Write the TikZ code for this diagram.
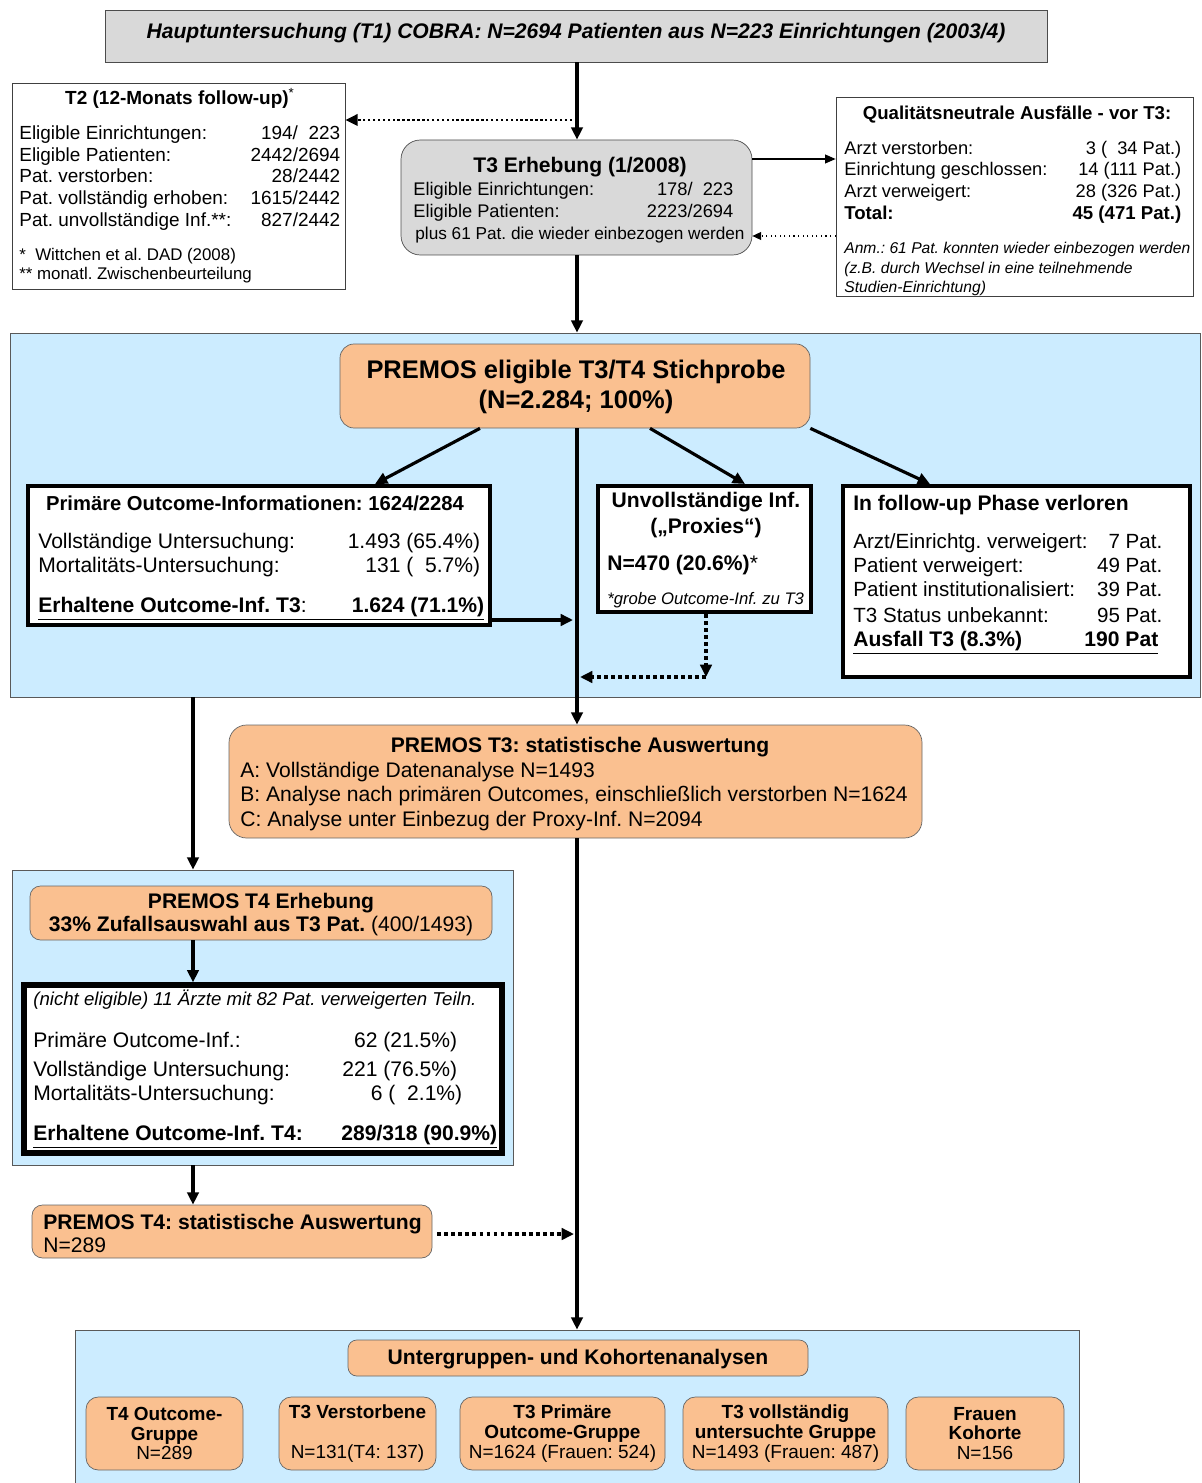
\documentclass[tikz,border=0pt]{standalone}
\usepackage{fontspec}
\setmainfont{Liberation Sans}
\usetikzlibrary{positioning, arrows.meta, fit}

\definecolor{boxgray}{RGB}{217,217,217}
\definecolor{boxorange}{RGB}{250,192,144}
\definecolor{areablue}{RGB}{204,236,255}

\begin{document}
\frenchspacing
\begin{tikzpicture}[x=0.02cm, y=-0.02cm,
	>={Triangle[length=7pt,width=6.5pt]},
	area/.style={draw=black!65, fill=areablue, inner sep=0pt},
	graybox/.style={draw=black!70, fill=boxgray, inner sep=0pt},
	orangebox/.style={draw=black!60, fill=boxorange, rounded corners=8pt, inner sep=0pt},
	plainbox/.style={draw=black!75, fill=white, inner sep=0pt},
	heavybox/.style={draw=black, line width=2.3pt, fill=white, inner sep=0pt},
	txt/.style={inner sep=0pt, text height=1.5ex, text depth=.25ex, yshift=-0.04cm},
	row/.style={txt, anchor=west},
	cohort/.style={align=center, inner sep=0pt, font=\fontsize{10.8}{11.3}\selectfont},
	flow/.style={->, line width=1.8pt},
	dotflow/.style={->, line width=2.2pt, dash pattern=on 2.2pt off 1.8pt},
	f9i/.style={font=\fontsize{8.9}{10}\selectfont\itshape},
	f95/.style={font=\fontsize{9.6}{11}\selectfont},
	f10/.style={font=\fontsize{10.4}{12}\selectfont},
	f10b/.style={font=\fontsize{10.6}{12}\selectfont\bfseries},
	f11/.style={font=\fontsize{10.8}{12.5}\selectfont},
	f11b/.style={font=\fontsize{10.8}{12.5}\selectfont\bfseries},
	f12/.style={font=\fontsize{12}{14}\selectfont},
	f12b/.style={font=\fontsize{12}{14}\selectfont\bfseries}]
	\useasboundingbox (0,0) rectangle (1201,1483);

	% areas in the background
	\node (pool) [area, fit={(10,333) (1200,697)}] {};
	\node (t4area) [area, fit={(12,870) (513,1165)}] {};
	\node (subarea) [area, fit={(75,1330) (1079,1500)}] {};

	% top part
	\node (top) [graybox, fit={(105,10) (1047,62)}] {};
	\node (toptxt) at (576,31) [txt, font=\fontsize{12}{14}\selectfont\bfseries\itshape] {Hauptuntersuchung (T1) COBRA: N=2694 Patienten aus N=223 Einrichtungen (2003/4)};

	\node (t2) [plainbox, fit={(12,83) (345,289)}] {};
	\node (t2title) at (180,97) [txt, f11b] {T2 (12-Monats follow-up)\textsuperscript{\mdseries*}};
	\node (t2r1) at (19,132) [row, f11] {\makebox[6.42cm][l]{Eligible Einrichtungen:\hfill 194/\phantom{0}223}};
	\node (t2r2) at (19,154) [row, f11] {\makebox[6.42cm][l]{Eligible Patienten:\hfill 2442/2694}};
	\node (t2r3) at (19,175) [row, f11] {\makebox[6.42cm][l]{Pat. verstorben:\hfill 28/2442}};
	\node (t2r4) at (19,197) [row, f11] {\makebox[6.42cm][l]{Pat. vollständig erhoben:\hfill 1615/2442}};
	\node (t2r5) at (19,219) [row, f11] {\makebox[6.42cm][l]{Pat. unvollständige Inf.**:\hfill 827/2442}};
	\node (t2n1) at (19,253) [row, f95] {*\ \ Wittchen et al. DAD (2008)};
	\node (t2n2) at (19,272) [row, f95] {** monatl. Zwischenbeurteilung};

	\node (t3) [graybox, rounded corners=11pt, fit={(401,140) (752,255)}] {};
	\node (t3title) at (580,165) [txt, f12b] {T3 Erhebung (1/2008)};
	\node (t3r1) at (413,188) [row, f10] {\makebox[6.4cm][l]{Eligible Einrichtungen:\hfill 178/\phantom{0}223}};
	\node (t3r2) at (413,210) [row, f10] {\makebox[6.4cm][l]{Eligible Patienten:\hfill 2223/2694}};
	\node (t3r3) at (415,232) [row, font=\fontsize{9.8}{11}\selectfont] {plus 61 Pat. die wieder einbezogen werden};

	\node (q) [plainbox, fit={(836,97) (1193,296)}] {};
	\node (qtitle) at (1017,112) [txt, f10b] {Qualitätsneutrale Ausfälle - vor T3:};
	\node (qr1) at (844,147) [row, f10] {\makebox[6.74cm][l]{Arzt verstorben:\hfill 3 (\phantom{0}34 Pat.)}};
	\node (qr2) at (844,168) [row, f10] {\makebox[6.74cm][l]{Einrichtung geschlossen:\hfill 14 (111 Pat.)}};
	\node (qr3) at (844,190) [row, f10] {\makebox[6.74cm][l]{Arzt verweigert:\hfill 28 (326 Pat.)}};
	\node (qr4) at (844,212) [row, f10b] {\makebox[6.74cm][l]{Total:\hfill 45 (471 Pat.)}};
	\node (qn1) at (844,246) [row, f9i] {Anm.: 61 Pat. konnten wieder einbezogen werden};
	\node (qn2) at (844,266) [row, f9i] {(z.B. durch Wechsel in eine teilnehmende};
	\node (qn3) at (844,285) [row, f9i] {Studien-Einrichtung)};

	% PREMOS T3 sample
	\node (premos) [orangebox, fit={(340,344) (810,428)}] {};
	\node (premostxt) at (576,371) [txt, font=\fontsize{14.5}{17}\selectfont\bfseries] {PREMOS eligible T3/T4 Stichprobe};
	\node (premosn) at (576,401) [txt, font=\fontsize{14.5}{17}\selectfont\bfseries] {(N=2.284; 100\%)};

	\node (prim) [heavybox, fit={(28,486) (490,625)}] {};
	\node (primtitle) at (255,503) [txt, font=\fontsize{11.5}{13}\selectfont\bfseries] {Primäre Outcome-Informationen: 1624/2284};
	\node (primr1) at (38,541) [row, f12] {\makebox[8.84cm][l]{Vollständige Untersuchung:\hfill 1.493 (65.4\%)}};
	\node (primr2) at (38,565) [row, f12] {\makebox[8.84cm][l]{Mortalitäts-Untersuchung:\hfill 131 (\phantom{0}5.7\%)}};
	\node (primr3) at (38,605) [row, f12] {\underline{\makebox[8.92cm][l]{\textbf{Erhaltene Outcome-Inf. T3}:\hfill\textbf{1.624 (71.1\%)}}}};

	\node (unv) [heavybox, fit={(598,486) (811,612)}] {};
	\node (unvtitle) at (706,500) [txt, f12b] {Unvollständige Inf.};
	\node (unvproxy) at (706,526) [txt, f12b] {(„Proxies“)};
	\node (unvn) at (607,563) [row, f12] {\textbf{N=470 (20.6\%)}*};
	\node (unvnote) at (607,597) [row, font=\fontsize{9.5}{11}\selectfont\itshape] {*grobe Outcome-Inf. zu T3};

	\node (lost) [heavybox, fit={(843,486) (1190,677)}] {};
	\node (losttitle) at (853,503) [row, f12b] {In follow-up Phase verloren};
	\node (lostr1) at (853,541) [row, font=\fontsize{11.7}{13}\selectfont] {\makebox[6.18cm][l]{Arzt/Einrichtg. verweigert:\hfill 7 Pat.}};
	\node (lostr2) at (853,565) [row, font=\fontsize{11.7}{13}\selectfont] {\makebox[6.18cm][l]{Patient verweigert:\hfill 49 Pat.}};
	\node (lostr3) at (853,589) [row, font=\fontsize{11.7}{13}\selectfont] {\makebox[6.18cm][l]{Patient institutionalisiert:\hfill 39 Pat.}};
	\node (lostr4) at (853,615) [row, font=\fontsize{11.7}{13}\selectfont] {\makebox[6.18cm][l]{T3 Status unbekannt:\hfill 95 Pat.}};
	\node (lostr5) at (853,639) [row, f12b] {\underline{\makebox[6.1cm][l]{Ausfall T3 (8.3\%)\hfill 190 Pat}}};

	\node (eval3) [orangebox, rounded corners=10pt, fit={(229,725) (922,838)}] {};
	\node (eval3title) at (580,745) [txt, f12b] {PREMOS T3: statistische Auswertung};
	\node (eval3a) at (240,770) [row, f12] {A: Vollständige Datenanalyse N=1493};
	\node (eval3b) at (240,794) [row, f12] {B: Analyse nach primären Outcomes, einschließlich verstorben N=1624};
	\node (eval3c) at (240,819) [row, f12] {C: Analyse unter Einbezug der Proxy-Inf. N=2094};

	% PREMOS T4
	\node (erh4) [orangebox, rounded corners=6pt, fit={(30,886) (492,940)}] {};
	\node (erh4title) at (261,901) [txt, f12b] {PREMOS T4 Erhebung};
	\node (erh4sample) at (261,924) [txt, f12] {\textbf{33\% Zufallsauswahl aus T3 Pat.} (400/1493)};

	\node (res4) [heavybox, line width=3pt, fit={(24,985) (502,1153)}] {};
	\node (res4note) at (33,998) [row, font=\fontsize{10.6}{12}\selectfont\itshape] {(nicht eligible) 11 Ärzte mit 82 Pat. verweigerten Teiln.};
	\node (res4r1) at (33,1040) [row, f12] {\makebox[8.48cm][l]{Primäre Outcome-Inf.:\hfill 62 (21.5\%)}};
	\node (res4r2) at (33,1069) [row, f12] {\makebox[8.48cm][l]{Vollständige Untersuchung:\hfill 221 (76.5\%)}};
	\node (res4r3) at (33,1093) [row, f12] {\makebox[8.58cm][l]{Mortalitäts-Untersuchung:\hfill 6 (\phantom{0}2.1\%)}};
	\node (res4r4) at (33,1133) [row, f12b] {\underline{\makebox[9.28cm][l]{Erhaltene Outcome-Inf. T4:\hfill 289/318 (90.9\%)}}};

	\node (eval4) [orangebox, rounded corners=6pt, fit={(32,1205) (432,1258)}] {};
	\node (eval4title) at (43,1222) [row, f12b] {PREMOS T4: statistische Auswertung};
	\node (eval4n) at (43,1245) [row, f12] {N=289};

	% subgroups
	\node (sub) [orangebox, rounded corners=5pt, fit={(348,1340) (808,1376)}] {};
	\node (subtxt) at (578,1357) [txt, f12b] {Untergruppen- und Kohortenanalysen};
	\node (g1) [orangebox, rounded corners=7pt, fit={(86,1397) (243,1470)}] {};
	\node (g1txt) at (g1) [cohort] {\textbf{T4 Outcome-}\\\textbf{Gruppe}\\N=289};
	\node (g2) [orangebox, rounded corners=7pt, fit={(279,1397) (436,1470)}] {};
	\node (g2txt) at (g2) [cohort] {\textbf{T3 Verstorbene}\\\mbox{}\\N=131(T4: 137)};
	\node (g3) [orangebox, rounded corners=7pt, fit={(460,1397) (665,1470)}] {};
	\node (g3txt) at (g3) [cohort] {\textbf{T3 Primäre}\\\textbf{Outcome-Gruppe}\\N=1624 (Frauen: 524)};
	\node (g4) [orangebox, rounded corners=7pt, fit={(683,1397) (888,1470)}] {};
	\node (g4txt) at (g4) [cohort] {\textbf{T3 vollständig}\\\textbf{untersuchte Gruppe}\\N=1493 (Frauen: 487)};
	\node (g5) [orangebox, rounded corners=7pt, fit={(906,1397) (1064,1470)}] {};
	\node (g5txt) at (g5) [cohort] {\textbf{Frauen}\\\textbf{Kohorte}\\N=156};

	% connectors
	\coordinate (spine) at (577,0);
	\coordinate (leftline) at (193,0);
	\coordinate (t2tap) at (577,120);
	\coordinate (primjoin) at (573,620);
	\coordinate (unvcorner) at (706,677);
	\coordinate (unvjoin) at (580,677);
	\coordinate (t4join) at (574,1234);

	\draw[flow] (top.south -| spine) -- (t3.north -| spine);
	\draw[->, line width=1.4pt, dash pattern=on 1.4pt off 1.4pt] (t2tap) -- (t2tap -| t2.east);
	\draw[->, line width=0.8pt, >={Triangle[length=6pt,width=5pt]}] (t3.east |- 0,159) -- (q.west |- 0,159);
	\draw[->, line width=0.6pt, dotted, >={Triangle[length=5pt,width=4.5pt]}] (q.west |- 0,236) -- (t3.east |- 0,236);
	\draw[flow] (t3.south -| spine) -- (pool.north -| spine);

	\draw[flow] (premos.south -| 480,0) -- (prim.north -| 375,0);
	\draw[flow] (premos.south -| 650,0) -- (unv.north -| 745,0);
	\draw[flow] (premos.south east) -- (lost.north -| 930,0);
	\draw[flow] (premos.south -| spine) -- (eval3.north -| spine);
	\draw[flow] (prim.east |- primjoin) -- (primjoin);
	\draw[dotflow] (unv.south -| unvcorner) -- (unvcorner);
	\draw[dotflow] (unvcorner) -- (unvjoin);

	\draw[flow] (pool.south -| leftline) -- (t4area.north -| leftline);
	\draw[flow] (erh4.south -| leftline) -- (res4.north -| leftline);
	\draw[flow] (t4area.south -| leftline) -- (eval4.north -| leftline);
	\draw[dotflow] ([xshift=0.1cm]eval4.east |- t4join) -- (t4join);
	\draw[flow] (eval3.south -| spine) -- (subarea.north -| spine);
\end{tikzpicture}
\end{document}
